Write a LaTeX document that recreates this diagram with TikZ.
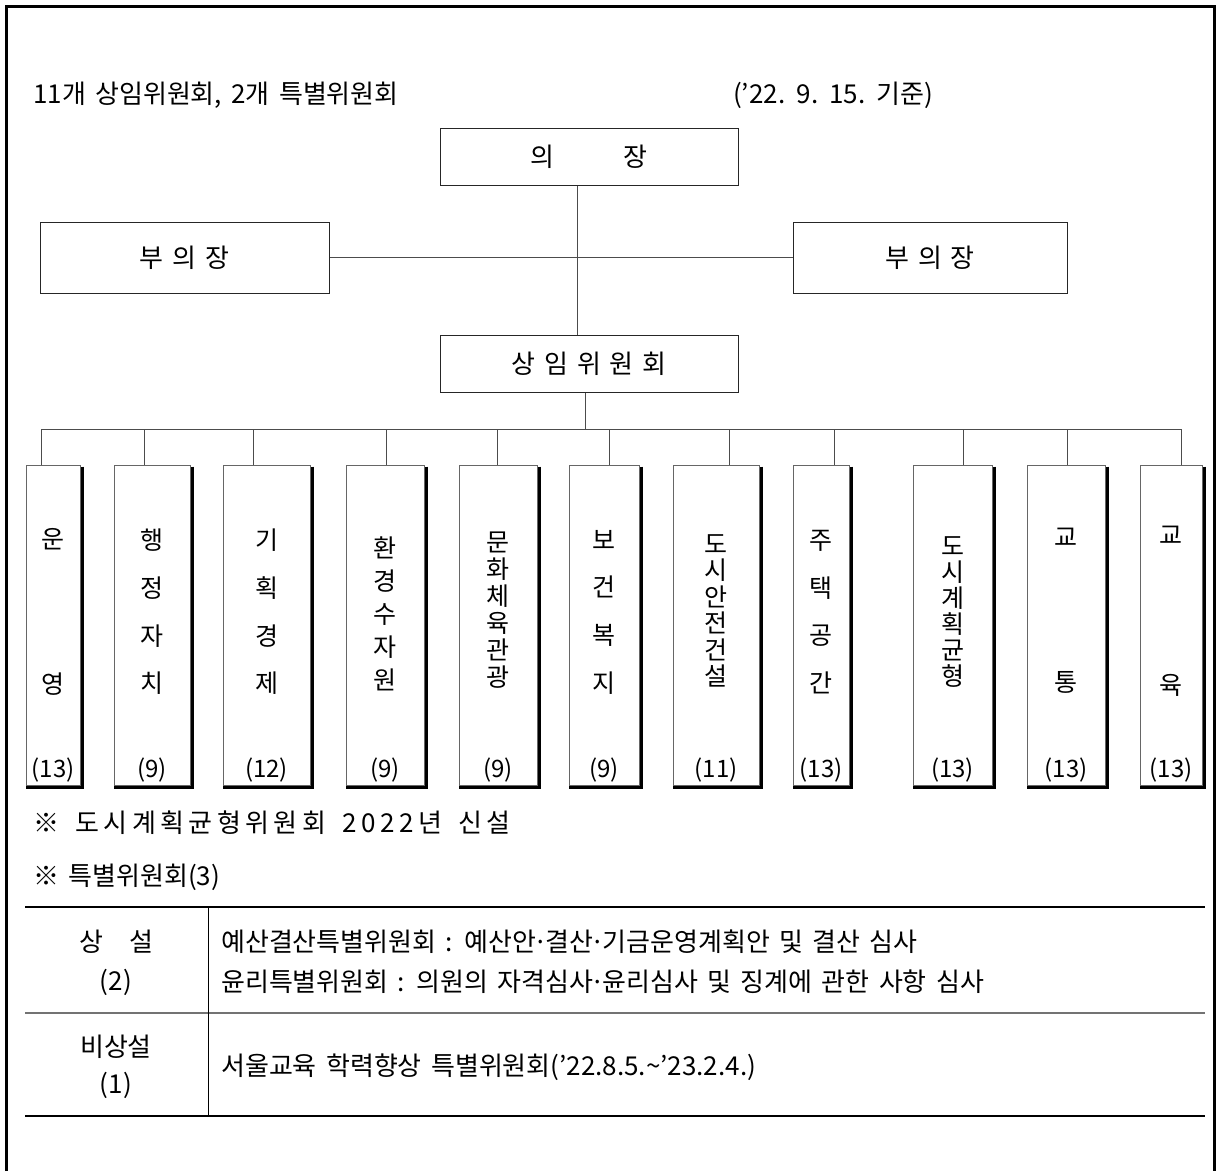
\documentclass[tikz,border=0pt]{standalone}
\usepackage{fontspec}
\setmainfont[WordSpace=1.6]{Noto Sans CJK KR}
\usepackage{tikz}
\usetikzlibrary{positioning}
\newcommand{\vsk}[1]{\fontsize{25}{#1}\selectfont}
\newcommand{\mdot}{\kern-.1em·\kern-.1em}

\begin{document}
\begin{tikzpicture}[x=1pt, y=-1pt, font=\fontsize{26}{30}\selectfont]
	\tikzstyle{every node} = [inner sep=0pt]
	\tikzstyle{headbox} = [draw=black!85, line width=1pt, minimum height=57pt]
	\tikzstyle{cbox} = [draw=black!60, line width=1pt, minimum height=320pt]
	\tikzstyle{shadowline} = [line width=3pt]
	\tikzstyle{vtext} = [align=center]
	\tikzstyle{count} = [font=\fontsize{24}{28}\selectfont]
	\tikzstyle{link} = [black!70, line width=1pt]
	\useasboundingbox (0,0) rectangle (1217,1171);
	\draw[line width=3pt] (6,1171) -- (6,6) -- (1214,6) -- (1214,1171);
	\node[anchor=west] (title) at (33,95) {11개 상임위원회, 2개 특별위원회};
	\node[anchor=west] (date) at (733,95) {(’22. 9. 15. 기준)};
	\node[headbox, minimum width=298pt] (chair) at (589,156.5) {의\hspace{69pt}장};
	\node[headbox, minimum width=289pt, minimum height=71pt] (vcl) at (184.5,257.5) {부\hspace{9pt}의\hspace{9pt}장};
	\node[headbox, minimum width=274pt, minimum height=71pt] (vcr) at (930,257.5) {부\hspace{9pt}의\hspace{9pt}장};
	\node[headbox, minimum width=298pt] (standing) at (589,363.5) {상\hspace{9pt}임\hspace{9pt}위\hspace{9pt}원\hspace{9pt}회};
	\coordinate (spine) at (577,257.5);
	\coordinate (hub) at (585,429);
	\draw[link] (chair.south -| spine) -- (standing.north -| spine);
	\draw[link] (vcl.east) -- (vcr.west);
	\draw[link] (standing.south -| hub) -- (hub);
	\node[cbox, minimum width=54pt] (c1) at (53,625) {};
	\node[cbox, minimum width=76pt] (c2) at (152,625) {};
	\node[cbox, minimum width=87pt] (c3) at (266.5,625) {};
	\node[cbox, minimum width=78pt] (c4) at (385,625) {};
	\node[cbox, minimum width=78pt] (c5) at (498,625) {};
	\node[cbox, minimum width=70pt] (c6) at (604,625) {};
	\node[cbox, minimum width=86pt] (c7) at (716,625) {};
	\node[cbox, minimum width=56pt] (c8) at (821,625) {};
	\node[cbox, minimum width=79pt] (c9) at (952.5,625) {};
	\node[cbox, minimum width=78pt] (c10) at (1066,625) {};
	\node[cbox, minimum width=62pt] (c11) at (1171,625) {};
	\coordinate (d1) at (41,429);
	\coordinate (d2) at (144,429);
	\coordinate (d3) at (253,429);
	\coordinate (d4) at (386,429);
	\coordinate (d5) at (497,429);
	\coordinate (d6) at (609,429);
	\coordinate (d7) at (729,429);
	\coordinate (d8) at (834,429);
	\coordinate (d9) at (963,429);
	\coordinate (d10) at (1067,429);
	\coordinate (d11) at (1181,429);
	\draw[link] (d1) -- (d11);
	\draw[link] (d1) -- (d1 |- c1.north);
	\draw[link] (d2) -- (d2 |- c2.north);
	\draw[link] (d3) -- (d3 |- c3.north);
	\draw[link] (d4) -- (d4 |- c4.north);
	\draw[link] (d5) -- (d5 |- c5.north);
	\draw[link] (d6) -- (d6 |- c6.north);
	\draw[link] (d7) -- (d7 |- c7.north);
	\draw[link] (d8) -- (d8 |- c8.north);
	\draw[link] (d9) -- (d9 |- c9.north);
	\draw[link] (d10) -- (d10 |- c10.north);
	\draw[link] (d11) -- (d11 |- c11.north);
	\draw[shadowline] ([xshift=1.5pt, yshift=-2pt]c1.north east) -- ([xshift=1.5pt, yshift=-1.5pt]c1.south east) -- ([yshift=-1.5pt]c1.south west);
	\draw[shadowline] ([xshift=1.5pt, yshift=-2pt]c2.north east) -- ([xshift=1.5pt, yshift=-1.5pt]c2.south east) -- ([yshift=-1.5pt]c2.south west);
	\draw[shadowline] ([xshift=1.5pt, yshift=-2pt]c3.north east) -- ([xshift=1.5pt, yshift=-1.5pt]c3.south east) -- ([yshift=-1.5pt]c3.south west);
	\draw[shadowline] ([xshift=1.5pt, yshift=-2pt]c4.north east) -- ([xshift=1.5pt, yshift=-1.5pt]c4.south east) -- ([yshift=-1.5pt]c4.south west);
	\draw[shadowline] ([xshift=1.5pt, yshift=-2pt]c5.north east) -- ([xshift=1.5pt, yshift=-1.5pt]c5.south east) -- ([yshift=-1.5pt]c5.south west);
	\draw[shadowline] ([xshift=1.5pt, yshift=-2pt]c6.north east) -- ([xshift=1.5pt, yshift=-1.5pt]c6.south east) -- ([yshift=-1.5pt]c6.south west);
	\draw[shadowline] ([xshift=1.5pt, yshift=-2pt]c7.north east) -- ([xshift=1.5pt, yshift=-1.5pt]c7.south east) -- ([yshift=-1.5pt]c7.south west);
	\draw[shadowline] ([xshift=1.5pt, yshift=-2pt]c8.north east) -- ([xshift=1.5pt, yshift=-1.5pt]c8.south east) -- ([yshift=-1.5pt]c8.south west);
	\draw[shadowline] ([xshift=1.5pt, yshift=-2pt]c9.north east) -- ([xshift=1.5pt, yshift=-1.5pt]c9.south east) -- ([yshift=-1.5pt]c9.south west);
	\draw[shadowline] ([xshift=1.5pt, yshift=-2pt]c10.north east) -- ([xshift=1.5pt, yshift=-1.5pt]c10.south east) -- ([yshift=-1.5pt]c10.south west);
	\draw[shadowline] ([xshift=1.5pt, yshift=-2pt]c11.north east) -- ([xshift=1.5pt, yshift=-1.5pt]c11.south east) -- ([yshift=-1.5pt]c11.south west);
	\node[vtext, font=\vsk{145}] (n1) at (53,612) {운\\영};
	\node[vtext, font=\vsk{47.7}] (n2) at (152,612) {행\\정\\자\\치};
	\node[vtext, font=\vsk{47.7}] (n3) at (266.5,612) {기\\획\\경\\제};
	\node[vtext, font=\vsk{33}] (n4) at (385,614) {환\\경\\수\\자\\원};
	\node[vtext, font=\vsk{27}] (n5) at (498,610) {문\\화\\체\\육\\관\\광};
	\node[vtext, font=\vsk{47.7}] (n6) at (604,612) {보\\건\\복\\지};
	\node[vtext, font=\vsk{26.5}] (n7) at (716,611) {도\\시\\안\\전\\건\\설};
	\node[vtext, font=\vsk{47.7}] (n8) at (821,612) {주\\택\\공\\간};
	\node[vtext, font=\vsk{26}] (n9) at (952.5,612) {도\\시\\계\\획\\균\\형};
	\node[vtext, font=\vsk{145}] (n10) at (1066,611) {교\\통};
	\node[vtext, font=\vsk{150}] (n11) at (1171,611) {교\\육};
	\node[count] (k1) at (53,770) {(13)};
	\node[count] (k2) at (152,770) {(9)};
	\node[count] (k3) at (266.5,770) {(12)};
	\node[count] (k4) at (385,770) {(9)};
	\node[count] (k5) at (498,770) {(9)};
	\node[count] (k6) at (604,770) {(9)};
	\node[count] (k7) at (716,770) {(11)};
	\node[count] (k8) at (821,770) {(13)};
	\node[count] (k9) at (952.5,770) {(13)};
	\node[count] (k10) at (1066,770) {(13)};
	\node[count] (k11) at (1171,770) {(13)};
	\node[anchor=west] (note1) at (33,823) {\addfontfeature{LetterSpace=17}※ 도시계획균형위원회 2022년 신설};
	\node[anchor=west] (note2) at (33,877) {※ 특별위원회(3)};
	\draw[line width=2pt] (25,907) -- (1205,907);
	\draw[line width=2.5pt, black!55] (25,1013) -- (1205,1013);
	\draw[line width=2pt] (25,1116) -- (1205,1116);
	\draw[line width=1pt] (208,907) -- (208,1116);
	\node (p1) at (116,942) {상\hspace{1em}설};
	\node (p2) at (116,982) {(2)};
	\node (q1) at (116,1047) {비상설};
	\node (q2) at (116,1085) {(1)};
	\node[anchor=west] (r1) at (221,942) {예산결산특별위원회 : 예산안\mdot 결산\mdot 기금운영계획안 및 결산 심사};
	\node[anchor=west] (r2) at (221,982) {윤리특별위원회 : 의원의 자격심사\mdot 윤리심사 및 징계에 관한 사항 심사};
	\node[anchor=west] (r3) at (221,1067) {서울교육 학력향상 특별위원회(’22.8.5.\textasciitilde’23.2.4.)};
\end{tikzpicture}
\end{document}
